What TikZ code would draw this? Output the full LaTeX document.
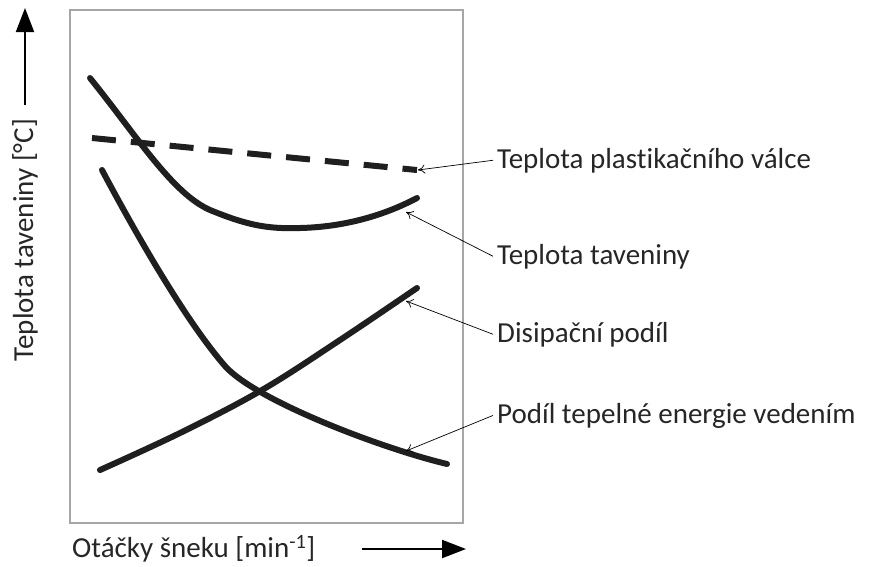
\documentclass[tikz,border=0pt]{standalone}
\usepackage{fontspec}
\setmainfont{Carlito}[Ligatures=NoCommon]
\usetikzlibrary{arrows.meta}

\begin{document}
\begin{tikzpicture}[x=1pt,y=-1pt,
    curve/.style={line width=6pt,line cap=round,black!88},
    leader/.style={line width=0.7pt,-{To[length=7pt,width=9pt]}},
    axis/.style={line width=2pt,-{Triangle[length=24pt,width=18pt]}},
    lbl/.style={font=\fontsize{29}{34}\selectfont,inner sep=0pt,text=black!85}]
        \useasboundingbox (0,0) rectangle (869,566);
        \draw[gray!70,line width=1.5pt] (70,10) rectangle (463,523);
        % axes
        \coordinate (ybot) at (25,105);
        \coordinate (ytop) at (25,8);
        \draw[axis] (ybot)--(ytop);
        \node[lbl,rotate=90] (ylab) at (25,240) {Teplota taveniny [°C]};
        \coordinate (xleft) at (362,549);
        \coordinate (xright) at (466,549);
        \draw[axis] (xleft)--(xright);
        \node[lbl,anchor=west] (xlab) at (72,549) {Otáčky šneku [min\textsuperscript{-1}]};
        % curves
        \draw[curve,dash pattern=on 24pt off 15pt,line cap=butt] (92,138)--(417,170);
        \draw[curve] (90,78) .. controls (140,140) and (175,198) .. (215,212)
            .. controls (250,226) and (270,229) .. (300,228)
            .. controls (345,227) and (385,215) .. (417,198);
        \draw[curve] plot[smooth,tension=0.6] coordinates {(100,470) (180,433) (262,390) (340,340) (417,288)};
        \draw[curve] (102,170) .. controls (135,232) and (185,320) .. (225,366)
            .. controls (255,400) and (380,448) .. (447,464);
        % labels
        \node[lbl,anchor=base west] (valec) at (497,168) {Teplota plastikačního válce};
        \node[lbl,anchor=base west] (tavenina) at (497,264) {Teplota taveniny};
        \node[lbl,anchor=base west] (disipace) at (497,342) {Disipační podíl};
        \node[lbl,anchor=base west] (vedeni) at (497,423) {Podíl tepelné energie vedením};
        \coordinate (pvalec) at (418,170);
        \coordinate (ptavenina) at (406,212);
        \coordinate (pdisipace) at (406,301);
        \coordinate (pvedeni) at (406,451);
        \draw[leader] ([xshift=-4pt]valec.west)--(pvalec);
        \draw[leader] ([xshift=-4pt]tavenina.west)--(ptavenina);
        \draw[leader] ([xshift=-4pt]disipace.west)--(pdisipace);
        \draw[leader] ([xshift=-4pt]vedeni.west)--(pvedeni);
\end{tikzpicture}
\end{document}
